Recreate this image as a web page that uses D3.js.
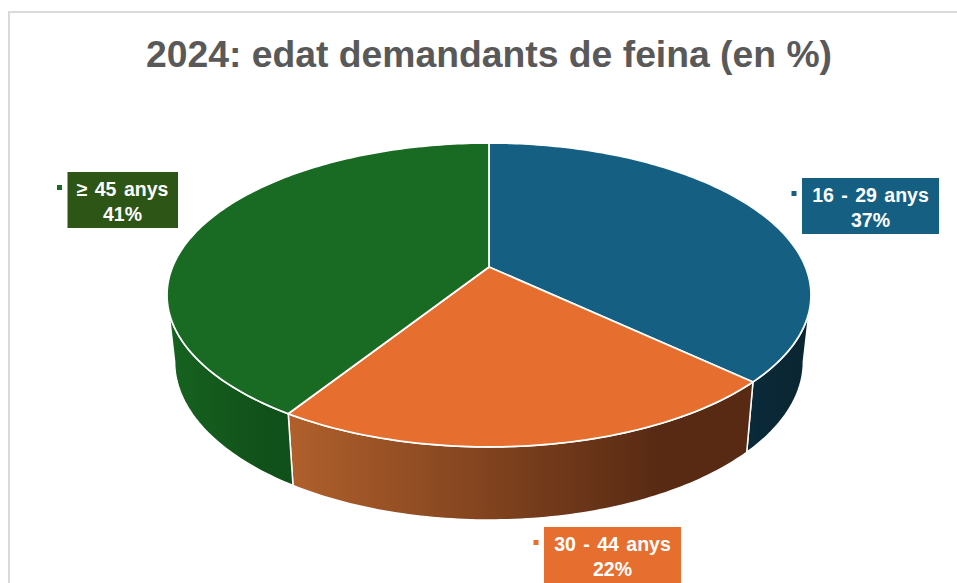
<!DOCTYPE html>
<html>
<head>
<meta charset="utf-8">
<script src="https://cdn.jsdelivr.net/npm/d3@7"></script>
<style>
    html, body { margin: 0; padding: 0; background: #fff; overflow: hidden; }
    text { font-family: "Liberation Sans", Arial, sans-serif; font-weight: bold; }
</style>
</head>
<body>
<svg id="chart" width="957" height="583"></svg>
<script>
const title = "2024: edat demandants de feina (en %)";
const categories = ["16 - 29 anys", "30 - 44 anys", "≥ 45 anys"];
const values = [37, 22, 41];
const top_colors = ["#156082", "#e66f30", "#196b24"];
const wall_left_colors = ["#0a2a3a", "#b0602c", "#176320"];
const wall_right_colors = ["#0a2632", "#582a13", "#10501a"];
const label_colors = ["#156082", "#e66f30", "#2c5516"];

// where each data label box sits: x, y of the box
const label_boxes = [[802, 178], [544, 527], [67.5, 172]];

const svg = d3.select("#chart");

// disc perspective, measured from the rim of the pie
const center_x = 489, center_y = 267;
const radius_x = 316.5, radius_y = 146.8, tilt = 0.184;
const wall_drop = 65.5, wall_radius_x = 309, wall_radius_y = 153;

function project(angle, drop, rx, ry) {
    let u = Math.sin(angle);
    let v = -Math.cos(angle);
    let w = 1 - tilt * v;
    return [center_x + rx * u / w, center_y + drop + ry * v / w];
}

function rim(a0, a1, drop, rx, ry) {
    let steps = Math.max(2, Math.ceil((a1 - a0) * 60));
    return d3.range(steps + 1).map(function (i) {
        return project(a0 + (a1 - a0) * i / steps, drop, rx, ry);
    });
}

const pie = d3.pie().sort(null).startAngle(0).endAngle(2 * Math.PI);
const slices = pie(values);
const line = d3.line();

// frame of the chart area, open at the right and the bottom
svg.append("path")
    .attr("d", "M9,583V12H957")
    .attr("fill", "none")
    .attr("stroke", "#d9d9d9")
    .attr("stroke-width", 2);

svg.append("text")
    .attr("x", 489)
    .attr("y", 67)
    .attr("text-anchor", "middle")
    .attr("font-size", 37.3)
    .attr("fill", "#595959")
    .text(title);

let defs = svg.append("defs");

// only the part of the wall that faces the viewer, between the widest rim points
const front_start = Math.acos(-tilt), front_end = 2 * Math.PI - front_start;
let walls = slices.map(function (d, i) {
    return {
        index: i,
        a0: Math.max(d.startAngle, front_start),
        a1: Math.min(d.endAngle, front_end)
    };
});

walls.forEach(function (d) {
    let upper = rim(d.a0, d.a1, 0, radius_x, radius_y);
    let lower = rim(d.a0, d.a1, wall_drop, wall_radius_x, wall_radius_y);
    let xs = upper.concat(lower).map(function (p) { return p[0]; });
    let gradient = defs.append("linearGradient")
        .attr("id", "wall" + d.index)
        .attr("gradientUnits", "userSpaceOnUse")
        .attr("x1", d3.min(xs)).attr("x2", d3.max(xs))
        .attr("y1", 0).attr("y2", 0);
    gradient.append("stop").attr("offset", 0).attr("stop-color", wall_left_colors[d.index]);
    gradient.append("stop").attr("offset", 0.8).attr("stop-color", wall_right_colors[d.index]);

    svg.append("path")
        .attr("d", line(upper.concat(lower.reverse())) + "Z")
        .attr("fill", "url(#wall" + d.index + ")")
        .attr("stroke", "#fff")
        .attr("stroke-width", 1.5);
});

svg.selectAll(".slice")
    .data(slices)
    .enter()
    .append("path")
    .attr("class", "slice")
    .attr("d", function (d) {
        let points = rim(d.startAngle, d.endAngle, 0, radius_x, radius_y);
        points.push([center_x, center_y]);
        return line(points) + "Z";
    })
    .attr("fill", function (d, i) { return top_colors[i]; })
    .attr("stroke", "#fff")
    .attr("stroke-width", 1.75)
    .attr("stroke-linejoin", "round");

let labels = svg.selectAll(".label")
    .data(categories)
    .enter()
    .append("g")
    .attr("class", "label")
    .attr("transform", function (d, i) {
        return "translate(" + label_boxes[i][0] + "," + label_boxes[i][1] + ")";
    });

labels.append("rect")
    .attr("width", function (d, i) { return i === 2 ? 110.5 : 137; })
    .attr("height", 56)
    .attr("fill", function (d, i) { return label_colors[i]; });

labels.append("rect")
    .attr("x", -10.5)
    .attr("y", 13)
    .attr("width", 5)
    .attr("height", 5)
    .attr("fill", function (d, i) { return top_colors[i]; });

labels.append("text")
    .attr("x", function (d, i) { return i === 2 ? 55 : 68.5; })
    .attr("y", 24.3)
    .attr("text-anchor", "middle")
    .attr("font-size", 19.5)
    .attr("word-spacing", 2)
    .attr("fill", "#fff")
    .text(function (d) { return d; });

labels.append("text")
    .attr("x", function (d, i) { return i === 2 ? 55 : 68.5; })
    .attr("y", 48.7)
    .attr("text-anchor", "middle")
    .attr("font-size", 19.5)
    .attr("fill", "#fff")
    .text(function (d, i) { return values[i] + "%"; });
</script>
</body>
</html>
